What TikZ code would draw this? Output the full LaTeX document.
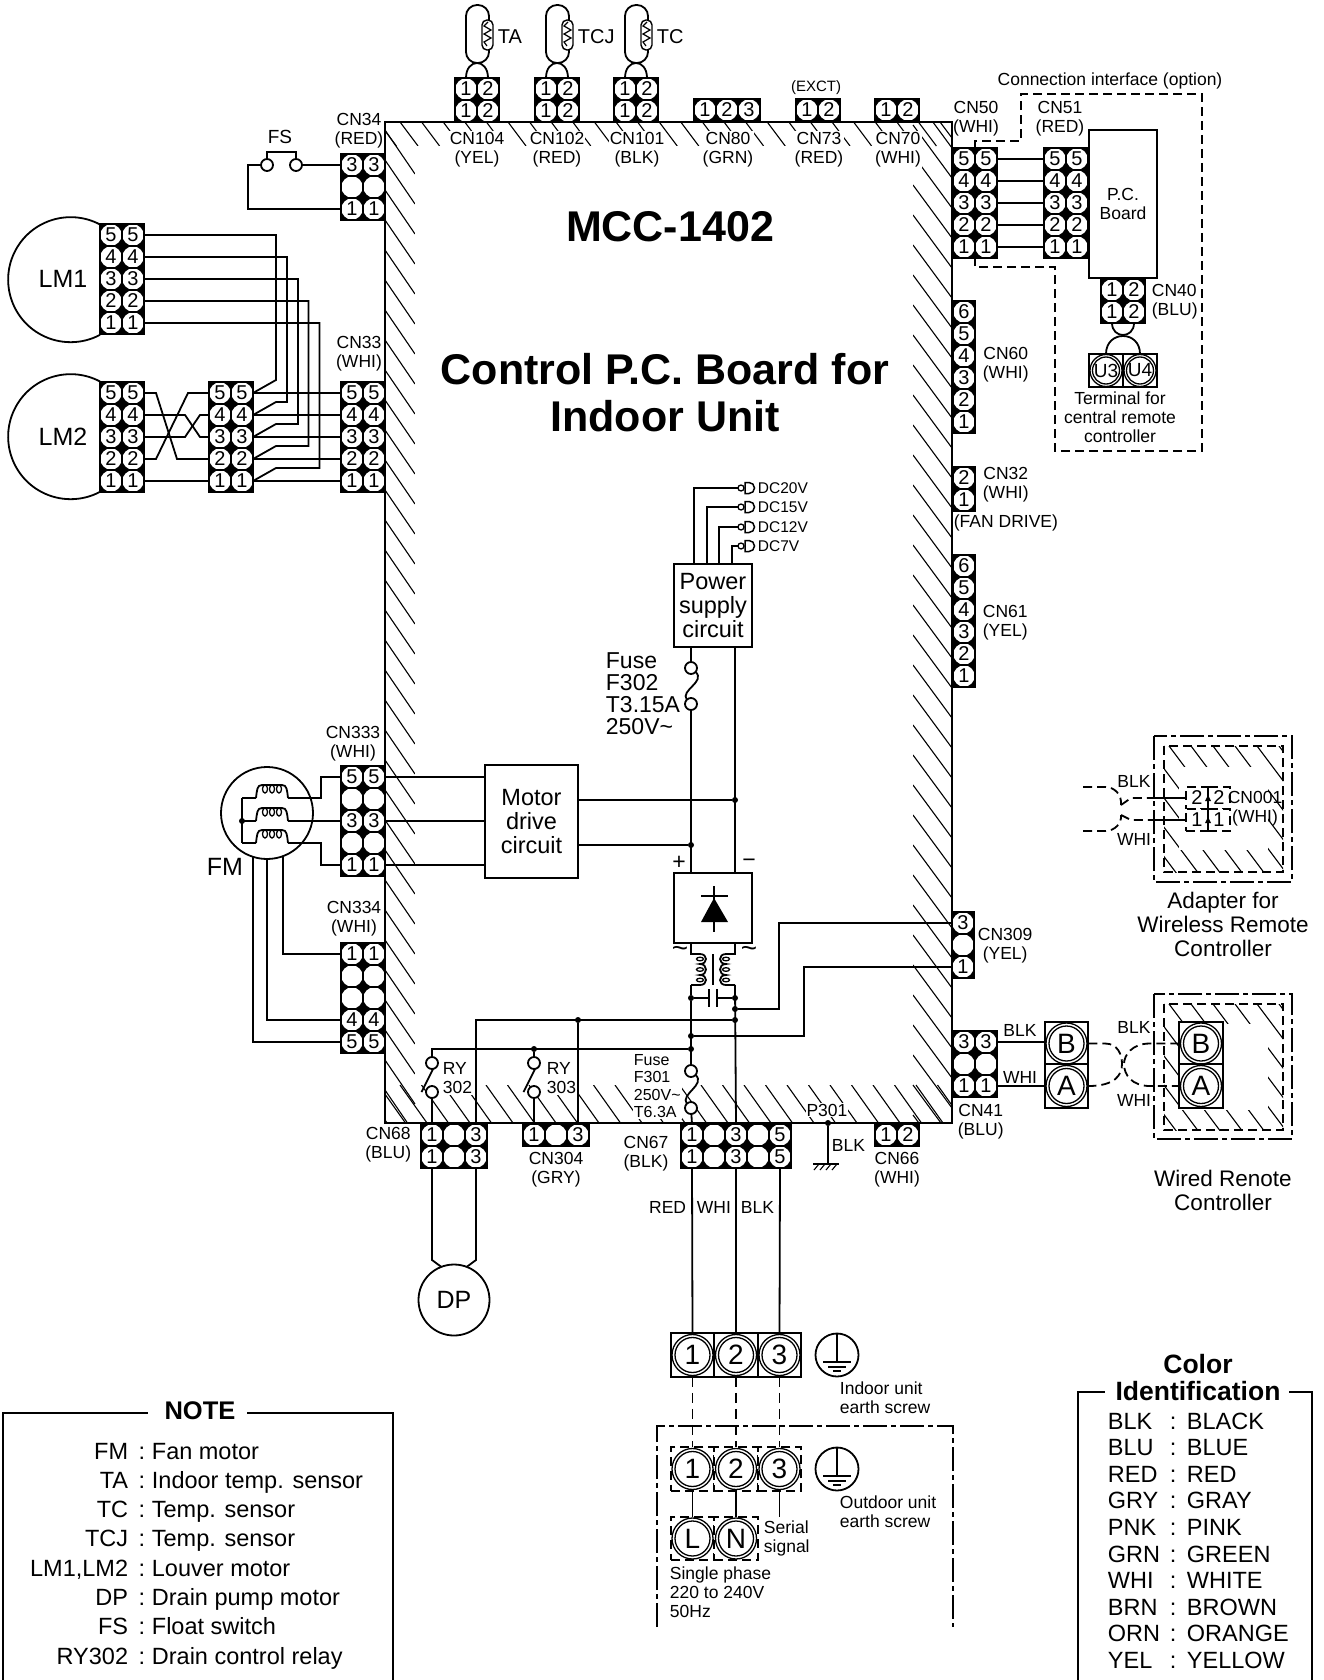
\documentclass[tikz,border=0pt]{standalone}
\usepackage{fontspec}
\setmainfont{Liberation Sans}

\tikzset{
    lab/.style={font=\fontsize{17.5}{19}\selectfont, inner sep=0pt, align=center},
    hlab/.style={lab, fill=white, inner sep=1pt},
    midlab/.style={font=\fontsize{23}{24}\selectfont, inner sep=0pt, align=center},
    ctrlab/.style={font=\fontsize{22.5}{24}\selectfont, inner sep=0pt, align=center},
    keylab/.style={font=\fontsize{23.5}{24}\selectfont, inner sep=0pt},
    boldlab/.style={font=\fontsize{43}{47}\selectfont\bfseries, inner sep=0pt, align=center},
    boxbold/.style={font=\fontsize{26.5}{26.5}\selectfont\bfseries, inner sep=0pt},
    pincell/.style={rectangle, draw, fill=black, minimum size=22pt, inner sep=0pt, outer sep=0pt, line width=1.2pt,
        font=\fontsize{20}{20}\selectfont,
        path picture={\fill[white] (path picture bounding box.center) circle (10.6);}},
    dashpin/.style={rectangle, draw, optdash, fill=white, minimum size=22pt, inner sep=0pt, outer sep=0pt,
        font=\fontsize{20}{20}\selectfont},
    bigterm/.style={rectangle, draw, fill=white, minimum size=43.5pt, inner sep=0pt, outer sep=0pt,
        font=\fontsize{28}{28}\selectfont,
        path picture={\draw[solid, line width=1.3pt] (path picture bounding box.center) circle (20.5) circle (17.5);}},
    optterm/.style={bigterm, optdash},
    uterm/.style={rectangle, draw, fill=white, minimum width=34pt, minimum height=33pt, inner sep=0pt, outer sep=0pt,
        font=\fontsize{19}{19}\selectfont,
        path picture={\draw[line width=1.3pt] (path picture bounding box.center) circle (16) circle (13.5);}},
    blockbox/.style={rectangle, draw, fill=white, inner sep=0pt, outer sep=0pt, align=center,
        font=\fontsize{23.5}{24}\selectfont},
    ringnode/.style={circle, draw, fill=white, minimum size=12pt, inner sep=0pt, outer sep=0pt},
    smallring/.style={circle, draw, fill=white, minimum size=6pt, inner sep=0pt, outer sep=0pt, line width=1.3pt},
    dotnode/.style={circle, fill, minimum size=6pt, inner sep=0pt, outer sep=0pt},
    motorring/.style={circle, draw, fill=white, inner sep=0pt, outer sep=0pt},
    hatchline/.style={line width=1.1pt},
    optdash/.style={dash pattern=on 9pt off 5pt},
    leaddash/.style={dash pattern=on 10pt off 6pt},
    framedash/.style={dash pattern=on 24pt off 4pt on 5pt off 4pt},
}

\newcommand{\vpins}[4]{%
    \foreach \lab [count=\r from 1] in {#4} {
        \foreach \cx [count=\c from 1] in {#2} {
            \node[pincell] (#1-\c-\r) at (\cx,#3+22*\r-22) {\lab};
        }
    }
}
\newcommand{\hpins}[4]{%
    \foreach \lab [count=\c from 1] in {#4} {
        \foreach \ry [count=\r from 1] in {#3} {
            \node[pincell] (#1-\c-\r) at (#2+22*\c-22,\ry) {\lab};
        }
    }
}
\newcommand{\earthmark}[3]{%
    \node[circle, draw, minimum size=43pt, inner sep=0pt, outer sep=0pt] (#1) at (#2,#3) {};
    \draw (#1.north) -- ++(0,29);
    \draw (#2-14,#3+7) -- ++(28,0);
    \draw (#2-9,#3+12) -- ++(18,0);
    \draw (#2-4,#3+16) -- ++(8,0);
}

\begin{document}
\begin{tikzpicture}[x=1pt, y=-1pt, line width=1.8pt]
    \useasboundingbox (0,0) rectangle (1324,1680);

    % Draw the hatched edge of the board
    \begin{scope}
        \clip (385,122) rectangle (952,1123);
        \foreach \hy in {130,160,...,1120} {
            \draw[hatchline] (385,\hy) -- ++(30,44);
        }
        \foreach \hy in {95,125,...,1115} {
            \draw[hatchline] (913,\hy) -- ++(39,53);
        }
        \foreach \k in {-1,...,26} {
            \draw[hatchline] (400+21.6*\k,122) -- ++(18,24);
            \draw[hatchline] (400+21.5*\k,1085) -- ++(27,38);
        }
    \end{scope}
    \fill[white] (415,146) rectangle (913,1085);
    \draw[line width=2.6pt] (385,122) rectangle (952,1123);

    % Draw the connectors
    \vpins{cnfs}{352,374}{165}{3,,1}
    \vpins{lmone}{111,133}{235}{5,4,3,2,1}
    \vpins{lmtwo}{111,133}{393}{5,4,3,2,1}
    \vpins{midblk}{220,242}{393}{5,4,3,2,1}
    \vpins{cnlouver}{352,374}{393}{5,4,3,2,1}
    \vpins{cnfifty}{964,986}{159}{5,4,3,2,1}
    \vpins{cnfiftyone}{1055,1077}{159}{5,4,3,2,1}
    \vpins{cnsixty}{964}{312}{6,5,4,3,2,1}
    \vpins{cnfan}{964}{478}{2,1}
    \vpins{cnsixtyone}{964}{566}{6,5,4,3,2,1}
    \vpins{cnserial}{963}{923}{3,,1}
    \vpins{cnremote}{964,986}{1042}{3,,1}
    \vpins{cnmotor}{352,374}{777}{5,,3,,1}
    \vpins{cnmotorb}{352,374}{954}{1,,,4,5}
    \hpins{cnta}{466}{89,111}{1,2}
    \hpins{cntcj}{546}{89,111}{1,2}
    \hpins{cntc}{625}{89,111}{1,2}
    \hpins{cneighty}{705}{110}{1,2,3}
    \hpins{cnexct}{807}{110}{1,2}
    \hpins{cnseventy}{886}{110}{1,2}
    \hpins{cnforty}{1112}{290,312}{1,2}
    \hpins{cnpump}{432}{1135,1157}{1,,3}
    \hpins{cnrelay}{534}{1135}{1,,3}
    \hpins{cnpower}{692}{1135,1157}{1,,3,,5}
    \hpins{cnsixtysix}{886}{1135}{1,2}

    % Draw the sensors
    \foreach \tlab/\tx/\tcn in {TA/466/cnta, TCJ/546/cntcj, TC/625/cntc} {
        \draw[rounded corners=11pt] (\tx,5) rectangle ++(23,58);
        \draw[fill=white, rounded corners=5pt, line width=1.4pt] (\tx+16,20) rectangle ++(11,30);
        \draw[line width=1.2pt] (\tx+22,22) -- ++(-4,4) -- ++(7,4) -- ++(-7,4) -- ++(7,4) -- ++(-7,4) -- ++(3,4);
        \draw (\tcn-1-1.north) .. controls (\tx,58) and (\tx+22,58) .. (\tcn-2-1.north);
        \node[font=\fontsize{20}{20}\selectfont, inner sep=0pt, anchor=west] (\tcn-name) at (\tx+31,37) {\tlab};
    }

    % Draw the float switch
    \node[ringnode] (fsa) at (267,165) {};
    \node[ringnode] (fsb) at (296,165) {};
    \draw (fsa.north) -- ++(0,-7) -| (fsb.north);
    \draw (fsb) -- (cnfs-1-1.west);
    \draw (fsa) -- (248,165) |- (cnfs-1-3.west);

    % Draw the louver motors
    \draw (100,224.5) arc (-62:-298:62.5);
    \draw (100,381.5) arc (-62:-298:62.5);
    \node[font=\fontsize{25}{25}\selectfont, inner sep=0pt] (lmonename) at (63,279) {LM1};
    \node[font=\fontsize{25}{25}\selectfont, inner sep=0pt] (lmtwoname) at (63,437) {LM2};
    \foreach \r/\vx/\vy in {1/276/380, 2/287/402, 3/298/424, 4/308.5/446, 5/319.5/468} {
        \draw (lmone-2-\r.east) -| (\vx,\vy) -- (276,\vy) -- (midblk-2-\r.east);
        \draw (midblk-2-\r.east) -- (cnlouver-1-\r.west);
    }
    \draw (lmtwo-2-1.east) -- ++(12,0) -- (177,459) -- (midblk-1-4.west);
    \draw (lmtwo-2-2.east) -- ++(41,0) -- (200,437) -- (midblk-1-3.west);
    \draw (lmtwo-2-3.east) -- ++(41,0) -- (200,415) -- (midblk-1-2.west);
    \draw (lmtwo-2-4.east) -- ++(12,0) -- (188,393) -- (midblk-1-1.west);
    \draw (lmtwo-2-5.east) -- (midblk-1-5.west);

    % Draw the interface board
    \node[blockbox, minimum width=68pt, minimum height=148pt, font=\fontsize{17.5}{19}\selectfont] (pcboard) at (1123,204) {P.C.\\Board};
    \foreach \r in {1,...,5} {
        \draw (cnfifty-2-\r.east) -- (cnfiftyone-1-\r.west);
    }
    \draw[optdash] (975,148) -- (975,141) -- (1021,141) -- (1021,94) -- (1202,94) -- (1202,451) -- (1055,451) -- (1055,267) -- (975,267) -- (975,258);
    \draw[line width=1.2pt] (975,148) -- (975,262);
    \node[uterm] (uthree) at (1106,370.5) {U3};
    \node[uterm] (ufour) at (1140,370.5) {U4};
    \draw (cnforty-1-2.south) .. controls (1112,339) and (1134,339) .. (cnforty-2-2.south);
    \draw (uthree.north) .. controls (1106,330) and (1140,330) .. (ufour.north);

    % Draw the power supply
    \node[blockbox, minimum width=78pt, minimum height=83pt] (psu) at (713,605.5) {Power\\supply\\circuit};
    \foreach \px/\dcy/\dclab [count=\i] in {694/488/DC20V, 707/507/DC15V, 719/527/DC12V, 732/546/DC7V} {
        \node[smallring] (dcring-\i) at (741,\dcy) {};
        \draw (psu.north -| \px,0) |- (dcring-\i.west);
        \draw[fill=white, line width=1.5pt] (745,\dcy-5.5) -- ++(4,0) arc (-90:90:5.5) -- ++(-4,0) -- cycle;
        \node[font=\fontsize{15.5}{15.5}\selectfont, inner sep=0pt, anchor=west] (dclabel-\i) at (757,\dcy) {\dclab};
    }
    \node[ringnode] (fusea) at (691,668) {};
    \node[ringnode] (fuseb) at (691,704) {};
    \draw (fusea.-40) .. controls (706,682) and (680,690) .. (fuseb.135);
    \draw (psu.south -| fusea) -- (fusea);

    % Draw the motor drive circuit and the rectifier
    \node[blockbox, minimum width=93pt, minimum height=113pt] (motor) at (531.5,821.5) {Motor\\drive\\circuit};
    \node[blockbox, minimum width=78pt, minimum height=70pt] (rectbox) at (713,908) {};
    \node[dotnode] (jminus) at (735,800) {};
    \node[dotnode] (jplus) at (691,845) {};
    \draw (fuseb) -- (rectbox.north -| fuseb);
    \draw (psu.south -| jminus) -- (rectbox.north -| jminus);
    \draw (motor.east |- jminus) -- (jminus);
    \draw (motor.east |- jplus) -- (jplus);
    \draw (cnmotor-2-1.east) -- (motor.west |- cnmotor-2-1.east);
    \draw (cnmotor-2-3.east) -- (motor.west |- cnmotor-2-3.east);
    \draw (cnmotor-2-5.east) -- (motor.west |- cnmotor-2-5.east);
    \draw (701,896) -- (728,896);
    \draw (714,886) -- (714,932);
    \fill (714,898) -- (728,922) -- (701,922) -- cycle;

    % Draw the line filter
    \coordinate (coill) at (691,985);
    \coordinate (coilr) at (735,985);
    \foreach \sx in {1,-1} {
        \draw (713-22*\sx,943) -- (713-22*\sx,954) -- (713-13*\sx,954)
            .. controls (713-5*\sx,954) and (713-5*\sx,964) .. (713-13*\sx,964)
            .. controls (713-5*\sx,964) and (713-5*\sx,975) .. (713-13*\sx,975)
            .. controls (713-5*\sx,975) and (713-5*\sx,985) .. (713-13*\sx,985)
            -- (713-22*\sx,985);
        \foreach \ly in {959,969.5,980} {
            \draw[line width=1.3pt] (713-13*\sx,\ly) ellipse (3.5 and 1.8);
        }
    }
    \draw (713,954) -- (713,985);
    \node[dotnode] (capl) at (691,998) {};
    \node[dotnode] (capr) at (735,998) {};
    \draw (capl) -- (709,998);
    \draw (717,998) -- (capr);
    \draw (709,989) -- (709,1007);
    \draw (717,989) -- (717,1007);
    \node[dotnode] (jserial) at (735,1009) {};
    \node[dotnode] (jpump) at (735,1020) {};
    \node[dotnode] (jrelay) at (578,1020) {};
    \node[dotnode] (jsignal) at (691,1036) {};
    \node[dotnode] (jcoil) at (691,1049) {};
    \node[dotnode] (jcoilb) at (534,1049) {};
    \node[ringnode] (fusec) at (691,1071) {};
    \node[ringnode] (fused) at (691,1108) {};
    \draw (fusec.-40) .. controls (706,1085) and (680,1094) .. (fused.135);
    \draw (coill) -- (capl) -- (fusec);
    \draw (fused) -- (cnpower-1-1.north);
    \draw (coilr) -- (cnpower-3-1.north);
    \draw (jserial) -- (779,1009) |- (cnserial-1-1.west);
    \draw (jsignal) -- (804,1036) |- (cnserial-1-3.west);
    \draw (jpump) -| (cnpump-3-1.north);
    \draw (jrelay) -- (cnrelay-3-1.north);

    % Draw the relays
    \node[ringnode] (rya) at (432,1063) {};
    \node[ringnode] (ryb) at (432,1092) {};
    \node[ringnode] (ryc) at (534,1063) {};
    \node[ringnode] (ryd) at (534,1092) {};
    \draw (jcoil) -| (rya.north);
    \draw (jcoilb) -- (ryc);
    \draw (ryb) -- (cnpump-1-1.north);
    \draw (ryd) -- (cnrelay-1-1.north);
    \draw (421.5,1092) -- (rya.-80);
    \draw (523.5,1092) -- (ryc.-80);

    % Draw the fan motor
    \node[motorring, minimum size=92pt] (fm) at (267,813) {};
    \foreach \cy in {798,821,843} {
        \draw (256,\cy) .. controls (257,\cy-8) and (257,\cy-13) .. (262,\cy-13) -- (282,\cy-13) .. controls (287,\cy-13) and (287,\cy-8) .. (288,\cy);
        \foreach \lx in {265,272,279} {
            \draw[line width=1.3pt] (\lx,\cy-9) ellipse (2.5 and 4);
        }
        \draw (242,\cy) -- (256,\cy);
    }
    \draw (242,798) -- (242,843);
    \node[dotnode] (fmstar) at (242,821) {};
    \coordinate (fmwa) at (288,798);
    \coordinate (fmwb) at (288,821);
    \coordinate (fmwc) at (288,843);
    \draw (fmwa) -- (321,798) |- (cnmotor-1-1.west);
    \draw (fmwb) -- (cnmotor-1-3.west);
    \draw (fmwc) -- (321,843) |- (cnmotor-1-5.west);
    \draw (fm.-70) |- (cnmotorb-1-1.west);
    \draw (fm.south) |- (cnmotorb-1-4.west);
    \draw (fm.-108) |- (cnmotorb-1-5.west);

    % Draw the drain pump
    \node[motorring, minimum size=71pt, font=\fontsize{25}{25}\selectfont] (dp) at (454,1300) {DP};
    \draw (cnpump-1-2.south) -- (432,1260) -- (dp.111);
    \draw (cnpump-3-2.south) -- (476,1260) -- (dp.69);

    % Draw the earth point on the board
    \node[dotnode] (pdot) at (828,1123) {};
    \coordinate (pfoot) at (828,1164);
    \draw (pdot) -- (pfoot);
    \draw (813,1164) -- (839,1164);
    \foreach \gx in {819,825,831,837} {
        \draw[line width=1.1pt] (\gx,1164) -- ++(-5,6);
    }

    % Draw the terminal blocks
    \node[bigterm] (terma) at (692.5,1355) {1};
    \node[bigterm] (termb) at (736,1355) {2};
    \node[bigterm] (termc) at (779.5,1355) {3};
    \node[optterm] (outa) at (692.5,1469) {1};
    \node[optterm] (outb) at (736,1469) {2};
    \node[optterm] (outc) at (779.5,1469) {3};
    \node[optterm] (supl) at (692.5,1538.5) {L};
    \node[optterm] (supn) at (736,1538.5) {N};
    \coordinate (sigend) at (779.5,1517);
    \draw (cnpower-1-2.south) -- (terma.north);
    \draw (cnpower-3-2.south) -- (termb.north);
    \draw (cnpower-5-2.south) -- (termc.north);
    \draw[leaddash] (terma.south) -- (outa.north);
    \draw[leaddash] (termb.south) -- (outb.north);
    \draw[leaddash] (termc.south) -- (outc.north);
    \draw (outa.south) -- (supl.north);
    \draw (outb.south) -- (supn.north);
    \draw (outc.south) -- (sigend);
    \draw[framedash] (657,1627) -- (657,1426) -- (953,1426) -- (953,1627);
    \earthmark{earthin}{837}{1355}
    \earthmark{earthout}{837}{1469}

    % Draw the adapter for the wireless remote controller
    \begin{scope}
        \clip (1164,746) rectangle (1283,872);
        \foreach \k in {-8,...,8} {
            \draw[hatchline] (1169+22*\k,746) -- ++(150,200);
        }
    \end{scope}
    \fill[white] (1179,767) rectangle (1268,850);
    \draw[optdash] (1164,746) rectangle (1283,872);
    \draw[framedash] (1154,736) rectangle (1292,882);
    \node[dashpin] (cnadapt-1-1) at (1197,798) {2};
    \node[dashpin] (cnadapt-2-1) at (1219,798) {2};
    \node[dashpin] (cnadapt-1-2) at (1197,820) {1};
    \node[dashpin] (cnadapt-2-2) at (1219,820) {1};
    \draw[line width=1.3pt] (1208,787) -- (1208,831);
    \fill (1208,795) -- (1211,801) -- (1205,801) -- cycle;
    \fill (1208,817) -- (1211,823) -- (1205,823) -- cycle;
    \coordinate (wlkeep) at (1154,798);
    \coordinate (wlkeepb) at (1154,820);
    \draw (wlkeep) -- (cnadapt-1-1.west);
    \draw (wlkeepb) -- (cnadapt-1-2.west);
    \draw[optdash] (1083,787) -- (1105,787) .. controls (1115,787) and (1122,795) .. (1121,805);
    \draw[optdash] (1083,831) -- (1105,831) .. controls (1115,831) and (1122,823) .. (1121,815);
    \draw[optdash] (1121,805) -- (1131,798) -- (wlkeep);
    \draw[optdash] (1121,815) -- (1131,820) -- (wlkeepb);

    % Draw the wired remote controller
    \begin{scope}
        \clip (1164,1004) rectangle (1283,1130);
        \foreach \k in {-8,...,8} {
            \draw[hatchline] (1169+22*\k,1004) -- ++(150,200);
        }
    \end{scope}
    \fill[white] (1179,1024) rectangle (1268,1110);
    \draw[optdash] (1164,1004) rectangle (1283,1130);
    \draw[framedash] (1154,994) rectangle (1292,1139);
    \node[bigterm] (lftb) at (1066.5,1043.5) {B};
    \node[bigterm] (lfta) at (1066.5,1086) {A};
    \node[bigterm] (rgtb) at (1201,1043.5) {B};
    \node[bigterm] (rgta) at (1201,1086) {A};
    \draw (cnremote-2-1.east) -- (lftb.west |- cnremote-2-1.east);
    \draw (cnremote-2-3.east) -- (lfta.west |- cnremote-2-3.east);
    \draw[optdash] (lftb.east) -- (1105,1043.5) .. controls (1118,1043.5) and (1122,1055) .. (1122,1064) .. controls (1122,1075) and (1115,1086) .. (lfta.east);
    \draw[optdash] (rgtb.west) -- (1150,1043.5) .. controls (1132,1043.5) and (1124,1055) .. (1124,1064) .. controls (1124,1075) and (1132,1086) .. (1150,1086) -- (rgta.west);

    % Draw the texts on the top edge
    \foreach \lab/\lx [count=\i] in {CN104\\(YEL)/477, CN102\\(RED)/557, CN101\\(BLK)/637, CN80\\(GRN)/728, CN73\\(RED)/819, CN70\\(WHI)/898} {
        \node[hlab] (toplab-\i) at (\lx,149.5) {\lab};
    }
    \node[font=\fontsize{15}{15}\selectfont, inner sep=0pt] (exctlab) at (816,88) {(EXCT)};
    \node[lab] (cnfslab) at (359,131) {CN34\\(RED)};
    \node[lab] (fslab) [font=\fontsize{19}{19}\selectfont] at (280,137) {FS};
    \node[lab] (louverlab) at (359,354) {CN33\\(WHI)};
    \node[lab] (motorlab) at (353,744) {CN333\\(WHI)};
    \node[lab] (motorblab) at (354,919) {CN334\\(WHI)};
    \node[lab] (pumplab) [anchor=east] at (412,1145) {CN68\\(BLU)};
    \node[lab] (relaylab) at (556,1170) {CN304\\(GRY)};
    \node[lab] (powerlab) at (646,1154) {CN67\\(BLK)};
    \node[lab] (sixtysixlab) at (897,1170) {CN66\\(WHI)};
    \node[lab] (remotelab) [anchor=west] at (957,1122) {CN41\\(BLU)};
    \node[lab] (fiftylab) at (976,119) {CN50\\(WHI)};
    \node[lab] (fiftyonelab) at (1060,119) {CN51\\(RED)};
    \node[lab] (optionlab) at (1110,80.5) {Connection interface (option)};
    \node[lab] (fortylab) [anchor=west, align=left] at (1151,302) {CN40\\(BLU)};
    \node[lab] (centrallab) at (1120,417.5) {Terminal for\\central remote\\controller};
    \node[lab] (sixtylab) [anchor=west] at (982,365) {CN60\\(WHI)};
    \node[lab] (fanlab) [anchor=west] at (982,484.5) {CN32\\(WHI)};
    \node[lab] (fandrive) [anchor=west] at (953,522.5) {(FAN DRIVE)};
    \node[lab] (sixtyonelab) [anchor=west] at (982,623) {CN61\\(YEL)};
    \node[lab] (seriallab) [anchor=west] at (977,946) {CN309\\(YEL)};
    \node[lab] (adaptlab) at (1255,809) {CN001\\(WHI)};

    % Draw the wire colours
    \node[lab] (wlblk) at (1134,781) {BLK};
    \node[lab] (wlwhi) at (1134,839) {WHI};
    \node[lab] (lftblk) at (1020,1030) {BLK};
    \node[lab] (lftwhi) at (1020,1077) {WHI};
    \node[lab] (rgtblk) at (1134,1027) {BLK};
    \node[lab] (rgtwhi) at (1134,1100) {WHI};
    \node[lab] (redlab) [anchor=east] at (687,1207) {RED};
    \node[lab] (whilab) [anchor=west] at (696,1207) {WHI};
    \node[lab] (blklab) [anchor=west] at (740,1207) {BLK};
    \node[lab] (pblk) [anchor=west] at (831,1145) {BLK};
    \node[hlab] (plab) at (827,1110) {P301};

    % Draw the texts inside the board
    \node[boldlab] (mcclab) at (670,227) {MCC-1402};
    \node[boldlab] (titlelab) at (665,393) {Control P.C. Board for\\Indoor Unit};
    \node[font=\fontsize{23}{22}\selectfont, inner sep=0pt, anchor=west, align=left] (fuselab) at (605,693.5) {Fuse\\F302\\T3.15A\\250V\textasciitilde};
    \node[hlab] (fuseblab) [anchor=west, align=left, font=\fontsize{16}{17.5}\selectfont] at (632,1086) {Fuse\\F301\\250V\textasciitilde\\T6.3A};
    \node[hlab] (ryalab) [anchor=west, align=left] at (441,1078) {RY\\302};
    \node[hlab] (ryclab) [anchor=west, align=left] at (545,1078) {RY\\303};
    \node[midlab] (pluslab) at (679,863) {+};
    \node[midlab] (minuslab) at (749,863) {−};
    \node[font=\fontsize{28}{28}\selectfont, inner sep=0pt] (tildea) at (680,952) {\textasciitilde};
    \node[font=\fontsize{28}{28}\selectfont, inner sep=0pt] (tildeb) at (749,952) {\textasciitilde};
    \node[font=\fontsize{25}{25}\selectfont, inner sep=0pt] (fmlab) at (225,867) {FM};

    % Draw the texts beside the terminal blocks
    \node[lab] (earthinlab) [anchor=west, align=left] at (839,1397.5) {Indoor unit\\earth screw};
    \node[lab] (earthoutlab) [anchor=west, align=left] at (839,1512) {Outdoor unit\\earth screw};
    \node[lab] (signallab) [anchor=west, align=left] at (763,1538) {Serial\\signal};
    \node[lab] (supplylab) [anchor=west, align=left] at (669,1592) {Single phase\\220 to 240V\\50Hz};
    \node[ctrlab] (adapterlab) at (1223,924) {Adapter for\\Wireless Remote\\Controller};
    \node[ctrlab] (wiredlab) at (1223,1190) {Wired Renote\\Controller};

    % Draw the note box
    \node[font=\fontsize{25.5}{25.5}\selectfont\bfseries, inner sep=0pt] (notelab) at (200,1411) {NOTE};
    \draw (3,1680) -- (3,1413) -- (148,1413);
    \draw (247,1413) -- (393,1413) -- (393,1680);
    \foreach \key/\what [count=\i] in {FM/Fan motor, TA/Indoor temp. sensor, TC/Temp. sensor, TCJ/Temp. sensor, {LM1,LM2}/Louver motor, DP/Drain pump motor, FS/Float switch, RY302/Drain control relay} {
        \node[keylab, anchor=base east] (notekey-\i) at (129,1459+29.3*\i-29.3) {\key};
        \node[keylab, anchor=base] (notecol-\i) at (142,1459+29.3*\i-29.3) {:};
        \node[keylab, anchor=base west] (notetxt-\i) at (151,1459+29.3*\i-29.3) {\what};
    }

    % Draw the colour box
    \node[boxbold] (colorlab) at (1198,1364) {Color};
    \node[boxbold] (identlab) at (1198,1391) {Identification};
    \draw (1078,1680) -- (1078,1392) -- (1105,1392);
    \draw (1289,1392) -- (1312,1392) -- (1312,1680);
    \foreach \key/\what [count=\i] in {BLK/BLACK, BLU/BLUE, RED/RED, GRY/GRAY, PNK/PINK, GRN/GREEN, WHI/WHITE, BRN/BROWN, ORN/ORANGE, YEL/YELLOW} {
        \node[keylab, anchor=base west] (colkey-\i) at (1107,1429+26.6*\i-26.6) {\key};
        \node[keylab, anchor=base] (colcol-\i) at (1173,1429+26.6*\i-26.6) {:};
        \node[keylab, anchor=base west] (coltxt-\i) at (1186,1429+26.6*\i-26.6) {\what};
    }
\end{tikzpicture}
\end{document}
